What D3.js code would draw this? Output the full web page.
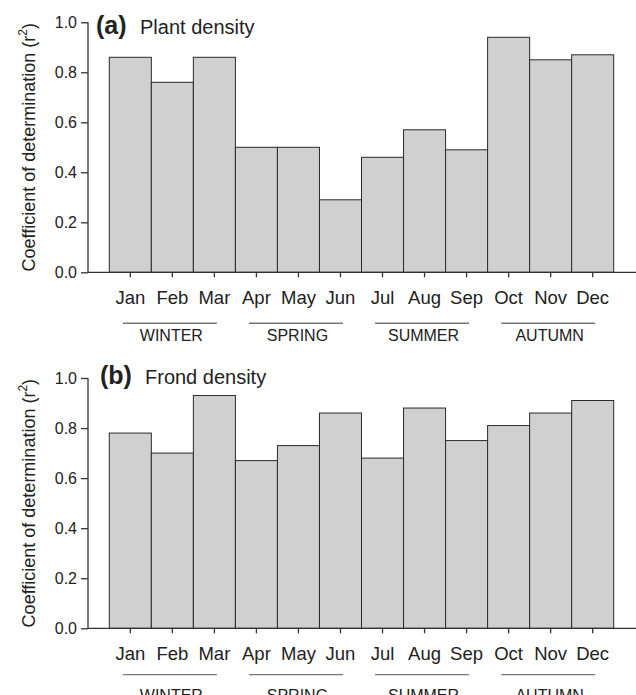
<!DOCTYPE html>
<html>
<head>
<meta charset="utf-8">
<script src="https://cdn.jsdelivr.net/npm/d3@7"></script>
<style>
  html, body { margin: 0; padding: 0; background: #fff; }
  svg { display: block; }
  text { font-family: "Liberation Sans", Arial, Helvetica, sans-serif; fill: #222; }
</style>
</head>
<body>
<svg id="chart" width="636" height="695"></svg>
<script>
// ---- Data ----
const months = ["Jan","Feb","Mar","Apr","May","Jun","Jul","Aug","Sep","Oct","Nov","Dec"];
const seasons = ["WINTER","SPRING","SUMMER","AUTUMN"];
const seasonMonths = [["Jan","Mar"],["Apr","Jun"],["Jul","Sep"],["Oct","Dec"]];
const plantDensity = [0.86,0.76,0.86,0.50,0.50,0.29,0.46,0.57,0.49,0.94,0.85,0.87];
const frondDensity = [0.78,0.70,0.93,0.67,0.73,0.86,0.68,0.88,0.75,0.81,0.86,0.91];
const yTicks = [0.0,0.2,0.4,0.6,0.8,1.0];
const panelLetters = ["(a)","(b)"];
const panelTitles = ["Plant density","Frond density"];
const yLabel = "Coefficient of determination (r";

// ---- Layout ----
const svg = d3.select("#chart");
const axisX = 88;
const x = d3.scaleBand().domain(months).range([109.3, 613.7]).padding(0);

const panels = [
  { values: plantDensity, top: 22.3, bottom: 272.3, letterX: 96, titleX: 140, titleY: 33.5, seasonLineDy: 51, seasonTextDy: 68.5 },
  { values: frondDensity, top: 378, bottom: 628.3, letterX: 100, titleX: 145, titleY: 383.5, seasonLineDy: 46.3, seasonTextDy: 72.5 }
];

panels.forEach((p, i) => {
  const y = d3.scaleLinear().domain([0, 1]).range([p.bottom, p.top]);
  const g = svg.append("g");

  // bars
  g.selectAll("rect.bar").data(months).enter().append("rect")
    .attr("class", "bar")
    .attr("x", d => x(d))
    .attr("width", x.bandwidth())
    .attr("y", (d, j) => y(p.values[j]))
    .attr("height", (d, j) => y(0) - y(p.values[j]))
    .attr("fill", "#d0d0d0")
    .attr("stroke", "#2a2a2a")
    .attr("stroke-width", 1);

  // y axis
  const yAxis = d3.axisLeft(y).tickValues(yTicks).tickFormat(d3.format(".1f")).tickSize(7).tickPadding(4);
  const ya = g.append("g").attr("transform", `translate(${axisX},0)`).call(yAxis);
  ya.select(".domain").attr("stroke", "#333").attr("stroke-width", 1.3).attr("d", `M0,${p.top}V${p.bottom}`);
  ya.selectAll(".tick line").attr("stroke", "#333").attr("stroke-width", 1.3);
  ya.selectAll(".tick text").attr("font-size", 16).attr("fill", "#222")
    .style("font-family", '"Liberation Sans", Arial, sans-serif');

  // x axis
  const xAxis = d3.axisBottom(x).tickSize(5).tickPadding(0).tickFormat("");
  const xa = g.append("g").attr("transform", `translate(0,${p.bottom})`).call(xAxis);
  xa.select(".domain").attr("stroke", "#333").attr("stroke-width", 1.3).attr("d", `M${axisX},0H636`);
  xa.selectAll(".tick line").attr("stroke", "#333").attr("stroke-width", 1.3);

  // month labels
  g.selectAll("text.month").data(months).enter().append("text")
    .attr("class", "month")
    .attr("x", d => x(d) + x.bandwidth() / 2)
    .attr("y", p.bottom + 32)
    .attr("text-anchor", "middle")
    .attr("font-size", 18.5)
    .text(d => d);

  // seasons
  seasons.forEach((s, k) => {
    const a = x(seasonMonths[k][0]) + x.bandwidth() / 2;
    const b = x(seasonMonths[k][1]) + x.bandwidth() / 2;
    const mid = (a + b) / 2;
    g.append("line")
      .attr("x1", mid - 49.5).attr("x2", mid + 44.5)
      .attr("y1", p.bottom + p.seasonLineDy).attr("y2", p.bottom + p.seasonLineDy)
      .attr("stroke", "#777").attr("stroke-width", 1.4);
    g.append("text")
      .attr("x", mid - 1)
      .attr("y", p.bottom + p.seasonTextDy)
      .attr("text-anchor", "middle")
      .attr("font-size", 16)
      .text(s);
  });

  // y label
  const cy = (p.top + p.bottom) / 2;
  const yl = g.append("text")
    .attr("transform", `translate(35,${cy}) rotate(-90)`)
    .attr("text-anchor", "middle")
    .attr("font-size", 18);
  yl.append("tspan").text(yLabel);
  yl.append("tspan").attr("font-size", 12).attr("dy", -8).text("2");
  yl.append("tspan").attr("dy", 8).text(")");

  // title
  g.append("text").attr("x", p.letterX).attr("y", p.titleY)
    .attr("font-size", 25).attr("font-weight", "bold").text(panelLetters[i]);
  g.append("text").attr("x", p.titleX).attr("y", p.titleY)
    .attr("font-size", 20).text(panelTitles[i]);
});
</script>
</body>
</html>
